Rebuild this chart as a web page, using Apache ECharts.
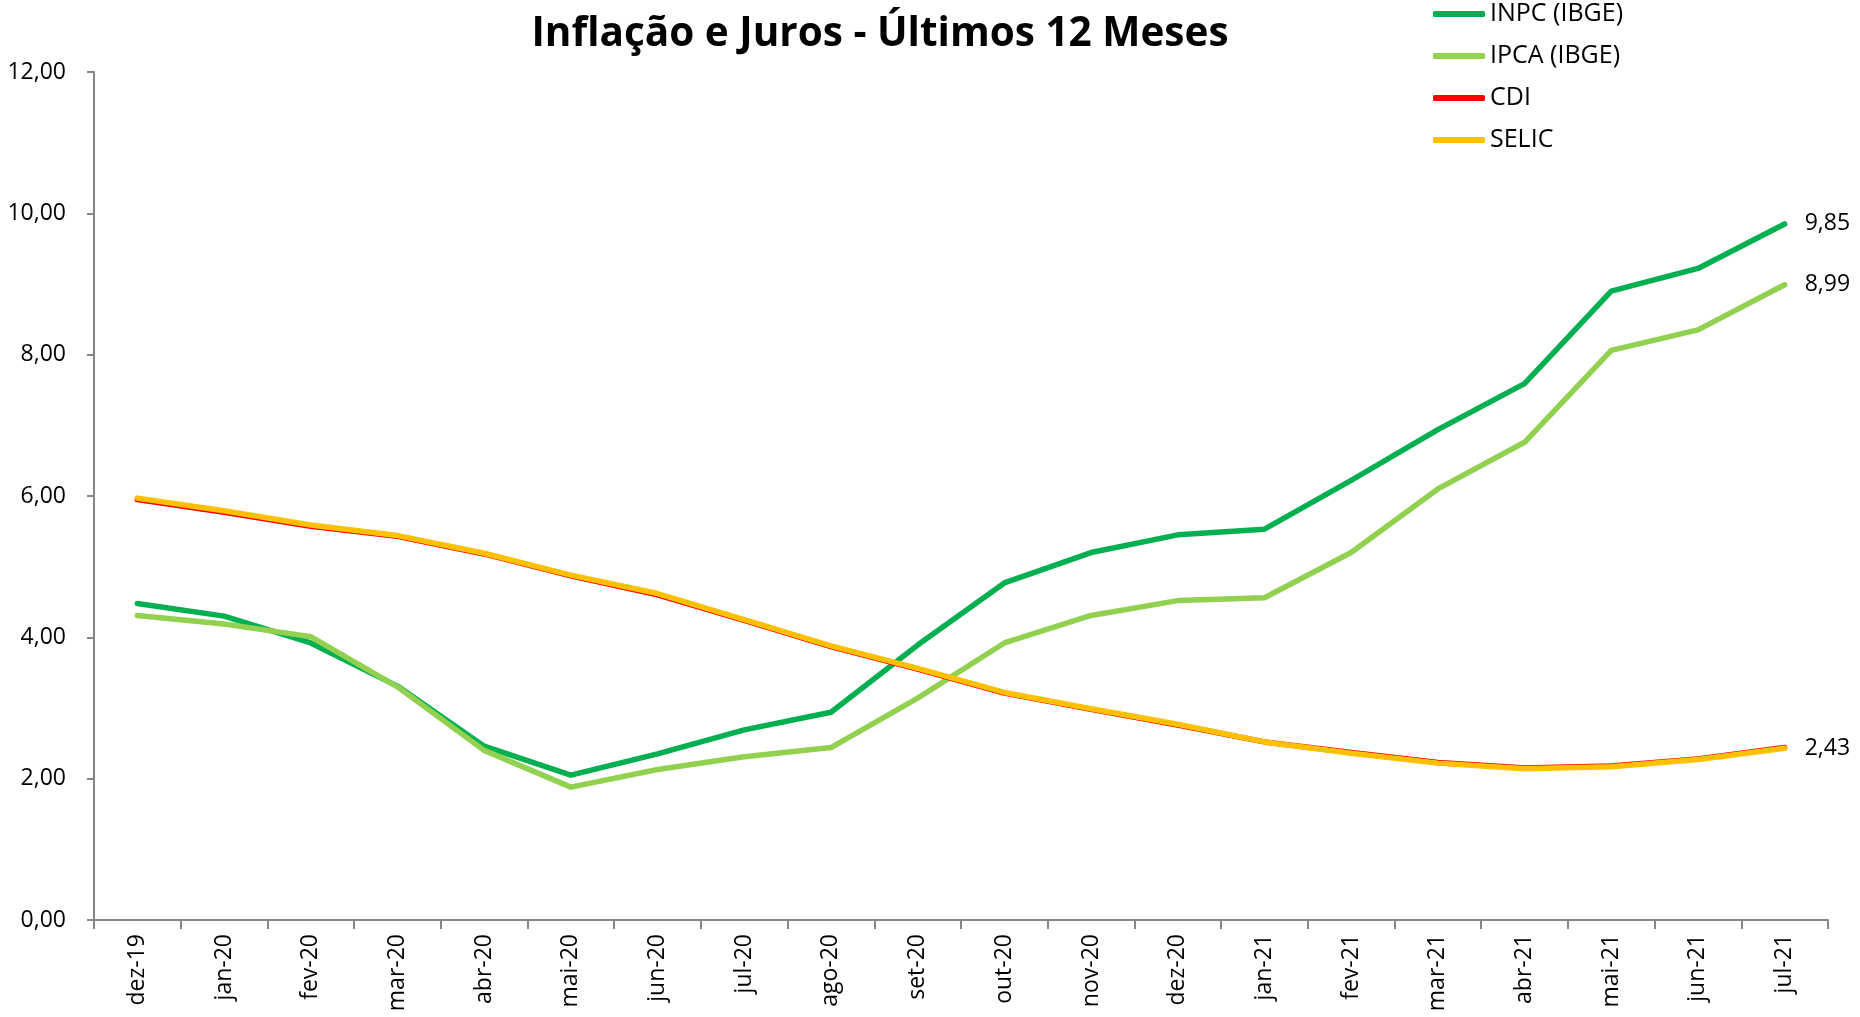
<!DOCTYPE html>
<html>
<head>
<meta charset="utf-8">
<script src="https://cdn.jsdelivr.net/npm/echarts@6/dist/echarts.min.js"></script>
<style>
  html, body { margin: 0; padding: 0; background: #fff; }
  #grafico { width: 1860px; height: 1017px; }
</style>
</head>
<body>
<div id="grafico"></div>
<script>
// meses (eixo x)
var meses = ['dez-19', 'jan-20', 'fev-20', 'mar-20', 'abr-20', 'mai-20', 'jun-20', 'jul-20', 'ago-20', 'set-20',
    'out-20', 'nov-20', 'dez-20', 'jan-21', 'fev-21', 'mar-21', 'abr-21', 'mai-21', 'jun-21', 'jul-21']

// acumulado 12 meses (%)
var inpc = [4.48, 4.30, 3.92, 3.31, 2.46, 2.05, 2.35, 2.69, 2.94, 3.89, 4.77, 5.20, 5.45, 5.53, 6.22, 6.94, 7.59, 8.90, 9.22, 9.85]
var ipca = [4.31, 4.19, 4.01, 3.30, 2.40, 1.88, 2.13, 2.31, 2.44, 3.14, 3.92, 4.31, 4.52, 4.56, 5.20, 6.10, 6.76, 8.06, 8.35, 8.99]
var cdi = [5.95, 5.77, 5.57, 5.43, 5.18, 4.87, 4.60, 4.24, 3.87, 3.55, 3.21, 2.98, 2.76, 2.52, 2.37, 2.23, 2.15, 2.18, 2.28, 2.44]
var selic = [5.97, 5.79, 5.59, 5.44, 5.19, 4.88, 4.62, 4.25, 3.88, 3.56, 3.22, 2.99, 2.77, 2.52, 2.36, 2.22, 2.14, 2.17, 2.27, 2.43]

var fonte = '"Open Sans", "Noto Sans", sans-serif'

var grafico = echarts.init(document.getElementById('grafico'))

function virgula(v) {
    return v.toFixed(2).replace('.', ',')
}

function serie(nome, cor, dados, rotulo) {
    return {
        name: nome,
        type: 'line',
        data: dados,
        symbol: 'none',
        showSymbol: false,
        lineStyle: { color: cor, width: 5.5, cap: 'round', join: 'round' },
        itemStyle: { color: cor },
        // rótulo só no último ponto
        endLabel: {
            show: rotulo,
            distance: 20,
            color: '#000',
            fontFamily: fonte,
            fontSize: 23,
            formatter: function (p) { return virgula(p.value) }
        }
    }
}

var opcao = {
    animation: false,
    backgroundColor: '#fff',
    title: {
        text: 'Inflação e Juros - Últimos 12 Meses',
        left: 875,
        top: 9,
        textAlign: 'center',
        textStyle: { fontFamily: fonte, fontWeight: 'bold', fontSize: 40.5, color: '#000' }
    },
    legend: {
        orient: 'vertical',
        left: 1428,
        top: -4,
        itemWidth: 52,
        itemHeight: 6,
        itemGap: 16,
        icon: 'roundRect',
        textStyle: { fontFamily: fonte, fontSize: 25, color: '#000', lineHeight: 26 },
        data: ['INPC (IBGE)', 'IPCA (IBGE)', 'CDI', 'SELIC']
    },
    grid: { left: 94, right: 32, top: 72, bottom: 97, containLabel: false },
    xAxis: {
        type: 'category',
        data: meses,
        boundaryGap: true,
        axisLine: { lineStyle: { color: '#868686', width: 2 } },
        axisTick: { show: true, length: 9, interval: 0, lineStyle: { color: '#868686', width: 2 } },
        axisLabel: { interval: 0, rotate: 90, margin: 14, color: '#000', fontFamily: fonte, fontSize: 23 },
        splitLine: { show: false }
    },
    yAxis: {
        type: 'value',
        min: 0,
        max: 12,
        interval: 2,
        axisLine: { show: true, lineStyle: { color: '#868686', width: 2 } },
        axisTick: { show: true, length: 7, lineStyle: { color: '#868686', width: 2 } },
        axisLabel: { margin: 28, color: '#000', fontFamily: fonte, fontSize: 23, formatter: virgula },
        splitLine: { show: false }
    },
    series: [
        serie('INPC (IBGE)', '#00B050', inpc, true),
        serie('IPCA (IBGE)', '#92D050', ipca, true),
        serie('CDI', '#FF0000', cdi, false),
        serie('SELIC', '#FFC000', selic, true)
    ]
}

grafico.setOption(opcao)
window.addEventListener('resize', grafico.resize)
</script>
</body>
</html>
